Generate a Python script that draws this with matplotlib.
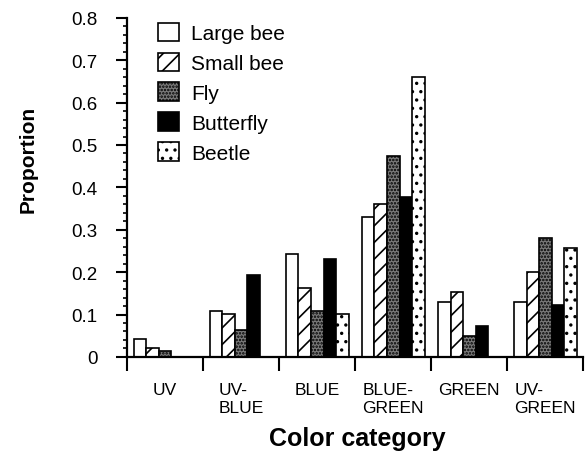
import numpy as np
import matplotlib
matplotlib.use("Agg")
import matplotlib.pyplot as plt
from matplotlib.ticker import MultipleLocator

plt.rcParams['font.family'] = ['Liberation Sans', 'DejaVu Sans']
plt.rcParams['hatch.linewidth'] = 1.2

categories = ["UV", "UV-\nBLUE", "BLUE", "BLUE-\nGREEN", "GREEN", "UV-\nGREEN"]
series = ["Large bee", "Small bee", "Fly", "Butterfly", "Beetle"]
large_bee = [0.042, 0.109, 0.243, 0.331, 0.130, 0.130]
small_bee = [0.020, 0.102, 0.162, 0.361, 0.153, 0.200]
fly = [0.014, 0.064, 0.109, 0.473, 0.049, 0.280]
butterfly = [0.0, 0.193, 0.230, 0.378, 0.072, 0.123]
beetle = [0.0, 0.0, 0.102, 0.660, 0.0, 0.258]

values = [large_bee, small_bee, fly, butterfly, beetle]
styles = [
    dict(facecolor='white', hatch=None),
    dict(facecolor='white', hatch='//'),
    dict(facecolor='#7a7a7a', hatch='.....'),
    dict(facecolor='black', hatch=None),
    dict(facecolor='white', hatch='..'),
]

fig = plt.figure(figsize=(5.85, 4.6), dpi=100)
ax = fig.add_axes([0.217, 0.222, 0.78, 0.737])

n_cat = len(categories)
bar_w = 0.165
offset = 0.09
x0 = np.arange(n_cat)
handles = []
for j, (name, vals) in enumerate(zip(series, values)):
    h = ax.bar(x0 + offset + j * bar_w, vals, width=bar_w, align='edge',
               edgecolor='black', linewidth=1.2, label=name, **styles[j])
    handles.append(h)

ax.set_xlim(0, n_cat)
ax.set_ylim(0, 0.8)
ax.spines['top'].set_visible(False)
ax.spines['right'].set_visible(False)
ax.spines['left'].set_linewidth(1.6)
ax.spines['bottom'].set_linewidth(1.6)

ax.yaxis.set_minor_locator(MultipleLocator(0.02))
ax.set_yticks(np.arange(0, 0.81, 0.1))
ax.set_yticklabels(["0"] + [f"{v:.1f}" for v in np.arange(0.1, 0.81, 0.1)])
ax.tick_params(axis='y', which='major', direction='out', length=8, width=1.5,
               pad=13, labelsize=13.5)
ax.tick_params(axis='y', which='minor', direction='out', length=3, width=1.2)

ax.set_xticks(np.arange(n_cat + 1))
ax.set_xticklabels([])
ax.set_xticks(x0 + 0.5, categories, minor=True)
ax.tick_params(axis='x', which='major', direction='out', length=10, width=1.5)
ax.tick_params(axis='x', which='minor', length=0, pad=18, labelsize=12.5)
for lab in ax.get_xticklabels(minor=True):
    lab.set_multialignment('left')
    lab.set_linespacing(1.3)

ax.set_ylabel("Proportion", fontsize=15, fontweight='bold')
ax.yaxis.set_label_coords(-0.195, 0.584)
ax.set_xlabel("Color category", fontsize=18, fontweight='bold')
ax.xaxis.set_label_coords(0.504, -0.205)

ax.legend(handles=handles, loc='upper left', bbox_to_anchor=(0.05, 1.01),
          frameon=False, fontsize=15, handlelength=1.0, handleheight=1.0,
          handletextpad=0.6, labelspacing=0.45, borderaxespad=0)

fig.savefig("out.png", dpi=100)
